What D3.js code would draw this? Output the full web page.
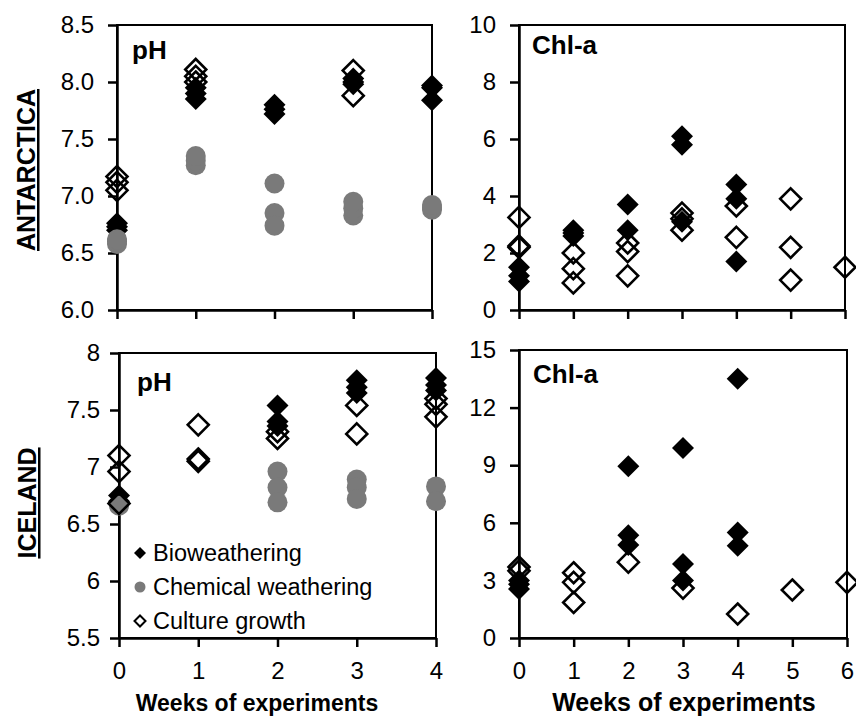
<!DOCTYPE html>
<html>
<head>
<meta charset="utf-8">
<script src="https://cdnjs.cloudflare.com/ajax/libs/d3/7.8.5/d3.min.js"></script>
<style>
  body { margin: 0; background: #fff; }
  text { font-family: Arial, "Liberation Sans", sans-serif; fill: #000; }
  .tick text { font-size: 24px; }
  .frame { fill: none; stroke: #000; stroke-width: 2; }
  .domain, .tick line { stroke: #000; stroke-width: 2.5; }
</style>
</head>
<body>
<svg id="chart" width="856" height="720"></svg>
<script>
// [week, value] pairs
var antPhBio  = [[0,6.70],[0,6.73],[0,6.76],[1,7.85],[1,7.90],[1,7.95],[2,7.72],[2,7.76],[2,7.80],[3,7.98],[3,8.00],[3,8.03],[4,7.84],[4,7.95],[4,7.97]];
var antPhChem = [[0,6.58],[0,6.60],[0,6.62],[1,7.27],[1,7.31],[1,7.35],[2,7.11],[2,6.85],[2,6.74],[3,6.83],[3,6.89],[3,6.95],[4,6.88],[4,6.90],[4,6.92]];
var antPhCult = [[0,7.05],[0,7.12],[0,7.17],[1,8.00],[1,8.05],[1,8.11],[3,8.10],[3,7.88]];

var antChlBio  = [[0,1.0],[0,1.2],[0,1.5],[1,2.6],[1,2.7],[1,2.8],[2,2.8],[2,3.7],[3,6.1],[3,5.8],[3,3.1],[4,4.4],[4,3.9],[4,1.7]];
var antChlCult = [[0,3.25],[0,2.25],[0,2.2],[1,2.0],[1,1.45],[1,0.95],[2,2.35],[2,2.05],[2,1.2],[3,3.4],[3,3.2],[3,2.8],[4,3.65],[4,2.55],[5,3.9],[5,2.2],[5,1.05],[6,1.5]];

var icePhBio  = [[0,6.75],[0,6.70],[2,7.54],[2,7.40],[2,7.36],[3,7.76],[3,7.70],[3,7.65],[4,7.78],[4,7.72],[4,7.67]];
var icePhChem = [[0,6.66],[2,6.96],[2,6.82],[2,6.69],[3,6.89],[3,6.82],[3,6.72],[4,6.83],[4,6.70]];
var icePhCult = [[0,7.10],[0,6.96],[0,6.68],[1,7.37],[1,7.07],[1,7.05],[2,7.31],[2,7.25],[3,7.54],[3,7.29],[4,7.60],[4,7.55],[4,7.44]];

var iceChlBio  = [[0,3.0],[0,2.8],[0,2.55],[2,8.95],[2,5.35],[2,4.85],[3,9.9],[3,3.85],[3,3.0],[4,13.5],[4,5.5],[4,4.8]];
var iceChlCult = [[0,3.7],[0,3.5],[1,3.4],[1,2.9],[1,1.85],[2,3.95],[3,2.6],[4,1.25],[5,2.5],[6,2.9]];

var weeksPh  = [0, 1, 2, 3, 4];
var weeksChl = [0, 1, 2, 3, 4, 5, 6];
var legendLabels = ["Bioweathering", "Chemical weathering", "Culture growth"];

var svg = d3.select("#chart");
var grey = "#7a7a7a";

function diamond(s) {
  return "M0," + (-s) + "L" + s + ",0L0," + s + "L" + (-s) + ",0Z";
}

function panel(opt) {
  var x = d3.scaleLinear().domain(opt.xdom).range([opt.left, opt.right]);
  var y = d3.scaleLinear().domain(opt.ydom).range([opt.bottom, opt.top]);

  // frame (top + right)
  svg.append("rect")
    .attr("class", "frame")
    .attr("x", opt.left).attr("y", opt.top)
    .attr("width", opt.right - opt.left).attr("height", opt.bottom - opt.top);

  var xa = svg.append("g")
    .attr("transform", "translate(0," + opt.bottom + ")")
    .call(d3.axisBottom(x).tickValues(opt.xticks).tickSize(9).tickSizeOuter(0).tickPadding(9)
      .tickFormat(opt.xlabels ? d3.format("d") : ""));
  xa.selectAll("text").attr("dy", "0.95em");

  svg.append("g")
    .attr("transform", "translate(" + opt.left + ",0)")
    .call(d3.axisLeft(y).tickValues(opt.yticks).tickSize(9).tickSizeOuter(0).tickPadding(opt.pad)
      .tickFormat(opt.yfmt));

  // bioweathering
  svg.append("g").selectAll("path")
    .data(opt.bio)
    .enter().append("path")
      .attr("d", diamond(11))
      .attr("transform", function(d) { return "translate(" + x(d[0]) + "," + y(d[1]) + ")"; })
      .attr("fill", "#000");

  // chemical weathering
  if (opt.chem) {
    svg.append("g").selectAll("circle")
      .data(opt.chem)
      .enter().append("circle")
        .attr("cx", function(d) { return x(d[0]); })
        .attr("cy", function(d) { return y(d[1]); })
        .attr("r", 10)
        .attr("fill", grey);
  }

  // culture growth (hollow)
  svg.append("g").selectAll("path")
    .data(opt.cult)
    .enter().append("path")
      .attr("d", diamond(10.5))
      .attr("transform", function(d) { return "translate(" + x(d[0]) + "," + y(d[1]) + ")"; })
      .attr("fill", "none")
      .attr("stroke", "#000")
      .attr("stroke-width", 2.6);

  svg.append("text")
    .attr("x", opt.left + opt.tx)
    .attr("y", opt.top + opt.ty)
    .attr("font-weight", "bold")
    .attr("font-size", "26px")
    .text(opt.title);

  if (opt.xlabels) {
    svg.append("text")
      .attr("x", opt.xtitle)
      .attr("y", 711)
      .attr("text-anchor", "middle")
      .attr("font-weight", "bold")
      .attr("font-size", opt.xsize)
      .text("Weeks of experiments");
  }
  return { x: x, y: y };
}

panel({ left: 117, right: 432, top: 25, bottom: 310, xdom: [0, 4], ydom: [6, 8.5],
  xticks: weeksPh, yticks: [6, 6.5, 7, 7.5, 8, 8.5], yfmt: d3.format(".1f"), pad: 14,
  bio: antPhBio, chem: antPhChem, cult: antPhCult, title: "pH", tx: 15, ty: 34, xlabels: false });

panel({ left: 519, right: 845, top: 25, bottom: 310, xdom: [0, 6], ydom: [0, 10],
  xticks: weeksChl, yticks: [0, 2, 4, 6, 8, 10], yfmt: d3.format("d"), pad: 14,
  bio: antChlBio, chem: null, cult: antChlCult, title: "Chl-a", tx: 13, ty: 29, xlabels: false });

panel({ left: 119, right: 436, top: 353, bottom: 638, xdom: [0, 4], ydom: [5.5, 8],
  xticks: weeksPh, yticks: [5.5, 6, 6.5, 7, 7.5, 8], yfmt: d3.format(""), pad: 10,
  bio: icePhBio, chem: icePhChem, cult: icePhCult, title: "pH", tx: 18, ty: 38, xlabels: true,
  xtitle: 257, xsize: "23px" });

panel({ left: 519, right: 847, top: 350, bottom: 638, xdom: [0, 6], ydom: [0, 15],
  xticks: weeksChl, yticks: [0, 3, 6, 9, 12, 15], yfmt: d3.format("d"), pad: 14,
  bio: iceChlBio, chem: null, cult: iceChlCult, title: "Chl-a", tx: 14, ty: 33, xlabels: true,
  xtitle: 684, xsize: "25px" });

// row labels
svg.append("text")
  .attr("transform", "translate(35,170) rotate(-90)")
  .attr("text-anchor", "middle")
  .attr("font-weight", "bold")
  .attr("font-size", "25px")
  .attr("text-decoration", "underline")
  .text("ANTARCTICA");

svg.append("text")
  .attr("transform", "translate(36,503) rotate(-90)")
  .attr("text-anchor", "middle")
  .attr("font-weight", "bold")
  .attr("font-size", "25px")
  .attr("text-decoration", "underline")
  .text("ICELAND");

// legend in the Iceland pH panel
var legend = svg.append("g").attr("transform", "translate(140,553)");
legend.append("path").attr("d", diamond(6)).attr("fill", "#000");
legend.append("circle").attr("cy", 34).attr("r", 5.5).attr("fill", grey);
legend.append("path").attr("d", diamond(5.5)).attr("transform", "translate(0,68)")
  .attr("fill", "none").attr("stroke", "#000").attr("stroke-width", 2);
legend.selectAll("text.lg")
  .data(legendLabels)
  .enter().append("text")
    .attr("class", "lg")
    .attr("x", 13)
    .attr("y", function(d, i) { return i * 34 + 8; })
    .attr("font-size", "23.5px")
    .text(function(d) { return d; });
</script>
</body>
</html>
